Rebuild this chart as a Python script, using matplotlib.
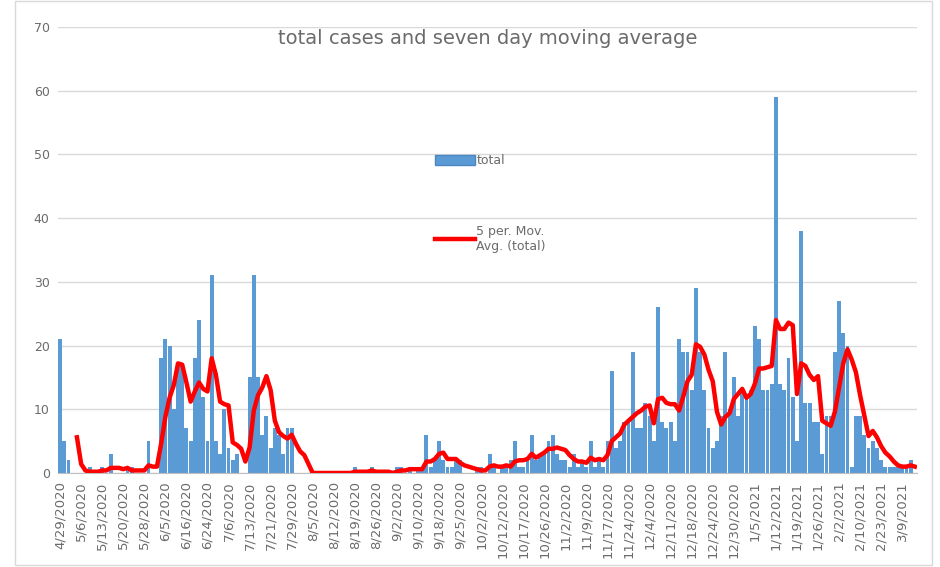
import numpy as np
import pandas as pd
import matplotlib
matplotlib.use("Agg")
import matplotlib.pyplot as plt
from matplotlib.patches import Patch, Rectangle
from matplotlib.lines import Line2D

# daily totals (one bar per reporting day)
totals = [
    21, 5, 2, 0, 0, 0, 0, 1, 0, 0,
    1, 0, 3, 0, 0, 0, 1, 1, 0, 0,
    0, 5, 0, 0, 18, 21, 20, 10, 17, 17,
    7, 5, 18, 24, 12, 5, 31, 5, 3, 10,
    4, 2, 3, 0, 0, 15, 31, 15, 6, 9,
    4, 7, 6, 3, 7, 7, 0, 0, 0, 0,
    0, 0, 0, 0, 0, 0, 0, 0, 0, 0,
    1, 0, 0, 0, 1, 0, 0, 0, 0, 0,
    1, 1, 0, 1, 0, 1, 1, 6, 1, 2,
    5, 2, 1, 1, 2, 2, 0, 0, 0, 1,
    1, 0, 3, 1, 0, 1, 1, 2, 5, 1,
    1, 2, 6, 2, 3, 3, 5, 6, 3, 2,
    2, 1, 3, 1, 2, 1, 5, 1, 2, 1,
    5, 16, 4, 5, 8, 8, 19, 7, 7, 11,
    9, 5, 26, 8, 7, 8, 5, 21, 19, 19,
    13, 29, 19, 13, 7, 4, 5, 9, 19, 10,
    15, 9, 13, 12, 13, 23, 21, 13, 13, 14,
    59, 14, 13, 18, 12, 5, 38, 11, 11, 8,
    8, 3, 9, 9, 19, 27, 22, 20, 1, 9,
    9, 6, 4, 5, 4, 2, 1, 1, 1, 1,
    1, 1, 2, 0,
]

# every 5th category is labelled
tick_labels = [
    "4/29/2020", "5/6/2020", "5/13/2020", "5/20/2020", "5/28/2020",
    "6/5/2020", "6/16/2020", "6/24/2020", "7/6/2020", "7/13/2020",
    "7/21/2020", "7/29/2020", "8/5/2020", "8/12/2020", "8/19/2020",
    "8/26/2020", "9/2/2020", "9/10/2020", "9/18/2020", "9/25/2020",
    "10/2/2020", "10/12/2020", "10/17/2020", "10/26/2020", "11/2/2020",
    "11/9/2020", "11/17/2020", "11/24/2020", "12/4/2020", "12/11/2020",
    "12/18/2020", "12/24/2020", "12/30/2020", "1/5/2021", "1/12/2021",
    "1/19/2021", "1/26/2021", "2/2/2021", "2/10/2021", "2/23/2021",
    "3/9/2021",
]
label_step = 5

bar_color = "#5B9BD5"
line_color = "#FF0000"
text_color = "#6B6B6B"

x = np.arange(len(totals))
mov_avg = pd.Series(totals, dtype=float).rolling(5).mean()

fig = plt.figure(figsize=(9.4, 5.67), dpi=100)
fig.patches.append(Rectangle((0.016, 0.003), 0.976, 0.995, transform=fig.transFigure,
                             fill=False, edgecolor="#D9D9D9", linewidth=1))
ax = fig.add_axes([0.0617, 0.1658, 0.9138, 0.7866])

ax.bar(x, totals, width=0.92, color=bar_color, zorder=2)
ax.plot(x, mov_avg, color=line_color, linewidth=3.2, zorder=3)

ax.set_xlim(-0.5, len(totals) - 0.5)
ax.set_ylim(0, 70)
ax.set_yticks(range(0, 71, 10))
ax.grid(axis="y", color="#D9D9D9", linewidth=1, zorder=0)
ax.set_axisbelow(True)

ax.set_xticks(np.arange(0, len(totals), label_step)[:len(tick_labels)])
ax.set_xticklabels(tick_labels, rotation=90, fontsize=9.5, color=text_color)
ax.tick_params(axis="x", length=0, pad=6)
ax.tick_params(axis="y", length=0, labelsize=9, labelcolor=text_color, pad=6)

for side in ("top", "right", "left"):
    ax.spines[side].set_visible(False)
ax.spines["bottom"].set_color("#BFBFBF")

ax.set_title("total cases and seven day moving average", fontsize=14,
             color=text_color, pad=-12, y=1.0)

handles = [Patch(facecolor=bar_color, edgecolor="#4A86C0"),
           Line2D([0], [0], color=line_color, linewidth=3.2)]
ax.legend(handles, ["total", "5 per. Mov.\nAvg. (total)"], loc="upper left",
          bbox_to_anchor=(0.426, 0.74), frameon=False, fontsize=9,
          labelcolor=text_color, labelspacing=4.6, handlelength=3.2,
          handletextpad=0.1, handleheight=0.9)

fig.savefig("out.png", dpi=100)
